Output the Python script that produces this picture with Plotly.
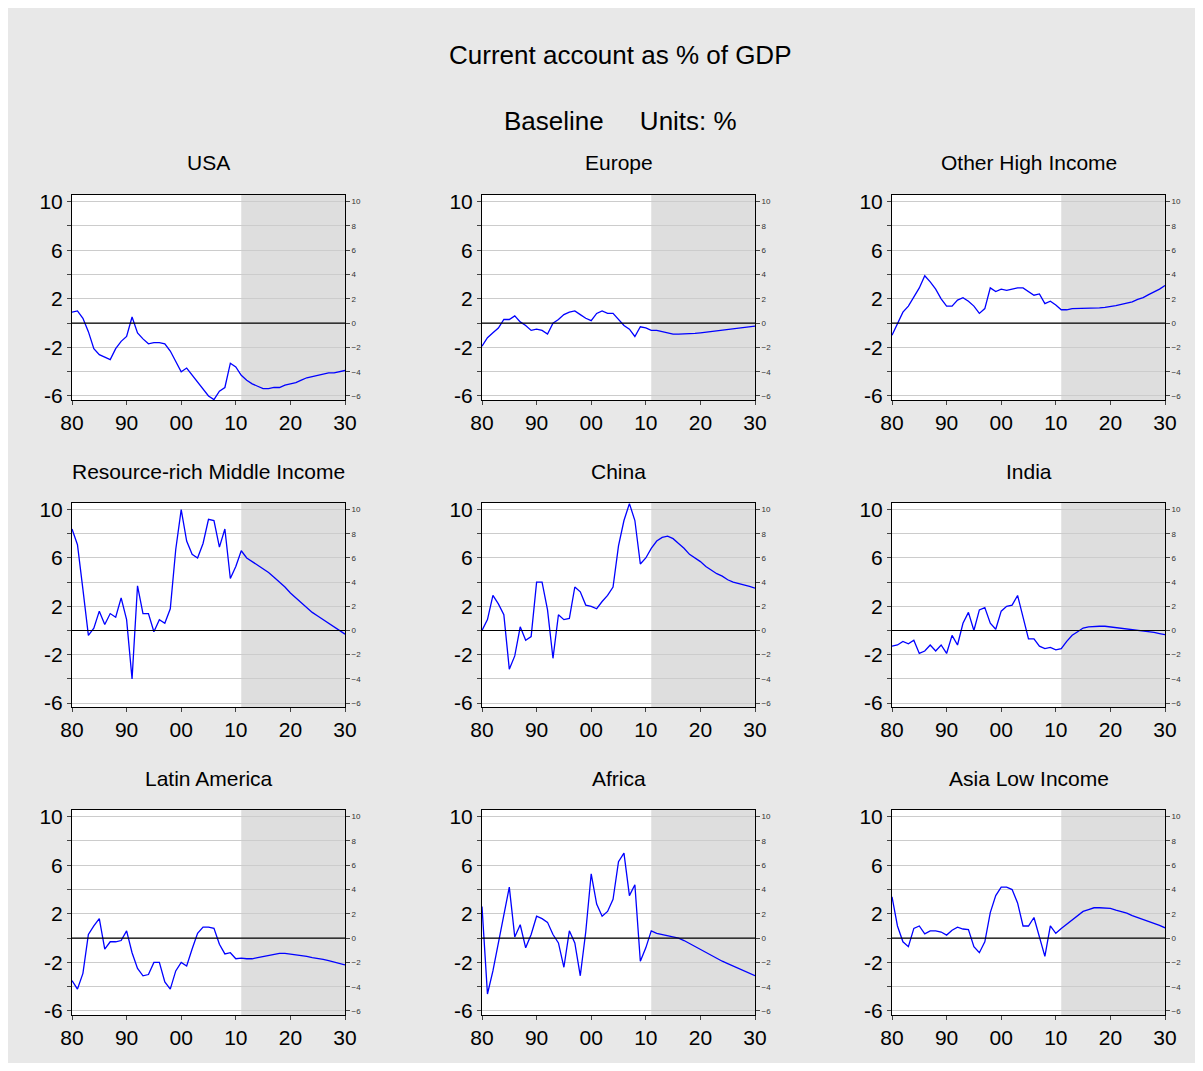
import plotly.graph_objects as go

YEARS = list(range(1980, 2031))

usa = [0.9, 1.0, 0.4, -0.7, -2.1, -2.6, -2.8, -3.0, -2.1, -1.5, -1.1, 0.5, -0.8, -1.3, -1.7, -1.6, -1.6, -1.7, -2.3, -3.2,
       -4.0, -3.7, -4.3, -4.8, -5.4, -6.0, -6.3, -5.6, -5.3, -3.3, -3.6, -4.3, -4.7, -5.0, -5.2, -5.4, -5.4, -5.3, -5.3, -5.1,
       -5.0, -4.9, -4.7, -4.5, -4.4, -4.3, -4.2, -4.1, -4.1, -4.0, -3.9]
europe = [-1.9, -1.2, -0.8, -0.4, 0.3, 0.3, 0.6, 0.1, -0.2, -0.6, -0.5, -0.6, -0.9, 0.0, 0.3, 0.7, 0.9, 1.0, 0.7, 0.4,
          0.2, 0.8, 1.0, 0.8, 0.8, 0.3, -0.2, -0.5, -1.1, -0.3, -0.4, -0.6, -0.6, -0.7, -0.8, -0.9, -0.9, -0.9, -0.9, -0.85,
          -0.8, -0.75, -0.7, -0.65, -0.6, -0.55, -0.5, -0.4, -0.35, -0.3, -0.25]
other_high = [-1.0, 0.0, 0.9, 1.4, 2.2, 2.9, 3.9, 3.4, 2.8, 2.0, 1.4, 1.4, 1.9, 2.1, 1.8, 1.4, 0.8, 1.2, 2.9, 2.6,
              2.8, 2.7, 2.8, 2.9, 2.9, 2.6, 2.3, 2.4, 1.6, 1.8, 1.5, 1.1, 1.1, 1.2, 1.2, 1.25, 1.2, 1.25, 1.25, 1.3,
              1.35, 1.45, 1.55, 1.65, 1.75, 1.95, 2.1, 2.35, 2.55, 2.8, 3.1]
resource_rich = [8.4, 7.1, 3.4, -0.4, 0.2, 1.6, 0.5, 1.4, 1.1, 2.7, 0.9, -4.0, 3.7, 1.4, 1.4, -0.1, 0.9, 0.6, 1.8, 6.7,
                 10.0, 7.4, 6.3, 6.0, 7.2, 9.2, 9.1, 6.9, 8.4, 4.3, 5.3, 6.6, 6.0, 5.7, 5.4, 5.1, 4.8, 4.4, 4.0, 3.6,
                 3.1, 2.7, 2.3, 1.9, 1.5, 1.2, 0.9, 0.6, 0.3, 0.0, -0.3]
china = [0.0, 0.9, 2.9, 2.2, 1.3, -3.2, -2.1, 0.3, -0.8, -0.5, 4.0, 4.0, 1.7, -2.3, 1.3, 0.9, 1.0, 3.6, 3.2, 2.1,
         2.0, 1.8, 2.4, 2.9, 3.6, 7.0, 9.1, 10.5, 9.1, 5.5, 6.0, 6.8, 7.4, 7.7, 7.8, 7.6, 7.2, 6.8, 6.3, 6.0,
         5.7, 5.3, 5.0, 4.7, 4.5, 4.2, 4.0, 3.9, 3.75, 3.65, 3.5]
india = [-1.3, -1.2, -0.9, -1.1, -0.8, -1.9, -1.7, -1.2, -1.7, -1.2, -1.9, -0.4, -1.2, 0.6, 1.5, 0.0, 1.7, 1.9, 0.6, 0.1,
         1.6, 2.0, 2.1, 2.9, 1.1, -0.7, -0.7, -1.3, -1.5, -1.4, -1.6, -1.5, -0.9, -0.4, -0.1, 0.2, 0.3, 0.35, 0.35, 0.35,
         0.3, 0.25, 0.2, 0.15, 0.1, 0.0, -0.05, -0.1, -0.15, -0.25, -0.35]
latin_america = [-3.5, -4.2, -2.9, 0.3, 1.0, 1.6, -0.9, -0.3, -0.3, -0.2, 0.6, -1.2, -2.5, -3.1, -3.0, -2.0, -2.0, -3.6, -4.2, -2.7,
                 -2.0, -2.3, -0.9, 0.4, 0.9, 0.9, 0.8, -0.5, -1.3, -1.2, -1.7, -1.65, -1.7, -1.7, -1.6, -1.5, -1.4, -1.3, -1.25, -1.25,
                 -1.3, -1.35, -1.4, -1.5, -1.6, -1.65, -1.75, -1.85, -1.95, -2.05, -2.2]
africa = [2.6, -4.6, -2.7, -0.3, 2.0, 4.2, 0.1, 1.1, -0.8, 0.3, 1.8, 1.6, 1.3, 0.3, -0.4, -2.4, 0.6, -0.4, -3.1, 0.5,
          5.3, 2.8, 1.8, 2.2, 3.2, 6.3, 7.0, 3.5, 4.4, -1.9, -0.8, 0.6, 0.4, 0.3, 0.25, 0.15, 0.0, -0.2, -0.45, -0.7,
          -0.95, -1.2, -1.45, -1.7, -1.9, -2.1, -2.3, -2.5, -2.7, -2.9, -3.1]
asia_low = [3.4, 1.0, -0.3, -0.7, 0.8, 1.0, 0.35, 0.6, 0.6, 0.5, 0.25, 0.65, 0.9, 0.75, 0.7, -0.7, -1.2, -0.3, 2.1, 3.5,
            4.2, 4.2, 4.0, 2.9, 1.0, 1.0, 1.7, 0.2, -1.5, 1.0, 0.4, 0.8, 1.15, 1.5, 1.8, 2.2, 2.35, 2.5, 2.5, 2.5,
            2.45, 2.3, 2.2, 2.05, 1.85, 1.7, 1.55, 1.4, 1.2, 1.05, 0.85]

titles = ["USA", "Europe", "Other High Income", "Resource-rich Middle Income", "China", "India",
          "Latin America", "Africa", "Asia Low Income"]
series = [usa, europe, other_high, resource_rich, china, india, latin_america, africa, asia_low]

FORECAST_START = 2011
Y_TICKS = list(range(-6, 11, 2))
X_TICKS = [1980, 1990, 2000, 2010, 2020, 2030]
X_LABELS = ["80", "90", "00", "10", "20", "30"]

# page is offset by the browser's 8px body margin
OFF = 8
W, H = 1187, 1055
ML, MR, MT, MB = 64, 30, 187, 48
PW, PH = W - ML - MR, H - MT - MB
col_px = [(72, 345), (482, 755), (892, 1165)]
row_px = [(195, 400), (503, 707), (810, 1015)]
FONT = "Liberation Sans, Arial, sans-serif"


def px_x(px):
    return (px - OFF - ML) / PW


def px_y(py):
    return 1 - (py - OFF - MT) / PH


fig = go.Figure()
layout = dict()
annotations = []
shapes = []

for i, (name, vals) in enumerate(zip(titles, series)):
    r, c = divmod(i, 3)
    n = i + 1
    sfx = "" if n == 1 else str(n)
    x0, x1 = col_px[c]
    y0, y1 = row_px[r]
    xdom = [px_x(x0), px_x(x1)]
    ydom = [px_y(y1), px_y(y0)]

    fig.add_trace(go.Scatter(x=YEARS, y=vals, mode="lines", line=dict(color="#0000ff", width=1.3),
                             xaxis=f"x{sfx}", yaxis=f"y{sfx}", showlegend=False))

    layout[f"xaxis{sfx}"] = dict(domain=xdom, anchor=f"y{sfx}", range=[1980, 2030], tickvals=X_TICKS,
                                 ticktext=X_LABELS, ticks="outside", ticklen=4, showgrid=False,
                                 showline=True, linecolor="black", mirror=True, zeroline=False,
                                 automargin=False, tickfont=dict(size=21, color="black"))
    layout[f"yaxis{sfx}"] = dict(domain=ydom, anchor=f"x{sfx}", range=[-6.33, 10.55], tickvals=Y_TICKS,
                                 ticktext=[str(v) if v % 4 == 2 else "" for v in Y_TICKS],
                                 ticks="outside", ticklen=4, showgrid=True, gridcolor="#cccccc",
                                 zeroline=False, showline=True, linecolor="black", automargin=False,
                                 tickfont=dict(size=21, color="black"))
    sid = 9 + n
    layout[f"yaxis{sid}"] = dict(overlaying=f"y{sfx}", side="right", anchor=f"x{sfx}", range=[-6.33, 10.55],
                                 tickvals=Y_TICKS, ticks="outside", ticklen=4, showgrid=False,
                                 zeroline=False, showline=True, linecolor="black", automargin=False,
                                 tickfont=dict(size=8, color="#333333"))
    fig.add_trace(go.Scatter(x=[None], y=[None], xaxis=f"x{sfx}", yaxis=f"y{sid}", showlegend=False,
                             hoverinfo="skip"))

    # forecast shading and zero line
    shapes.append(dict(type="rect", xref=f"x{sfx}", yref=f"y{sfx} domain", x0=FORECAST_START, x1=2030,
                       y0=0, y1=1, fillcolor="#dedede", line=dict(width=0), layer="below"))
    shapes.append(dict(type="line", xref=f"x{sfx} domain", yref=f"y{sfx}", x0=0, x1=1, y0=0, y1=0,
                       line=dict(color="black", width=1.2)))

    annotations.append(dict(text=name, x=(xdom[0] + xdom[1]) / 2, y=px_y(y0 - 32), xref="paper",
                            yref="paper", xanchor="center", yanchor="middle", showarrow=False,
                            font=dict(size=21, color="black")))

annotations.append(dict(text="Current account as % of GDP", x=px_x(620), y=px_y(55), xref="paper", yref="paper",
                        xanchor="center", yanchor="middle", showarrow=False, font=dict(size=26, color="black")))
annotations.append(dict(text="Baseline&nbsp;&nbsp;&nbsp;&nbsp;&nbsp;Units: %", x=px_x(620), y=px_y(121),
                        xref="paper", yref="paper", xanchor="center", yanchor="middle", showarrow=False,
                        font=dict(size=26, color="black")))

fig.update_layout(**layout)
fig.update_layout(width=W, height=H, margin=dict(l=ML, r=MR, t=MT, b=MB, autoexpand=False),
                  paper_bgcolor="#e8e8e8", plot_bgcolor="white", font=dict(family=FONT, color="black"),
                  annotations=annotations, shapes=shapes)
fig.write_html("out.html")
